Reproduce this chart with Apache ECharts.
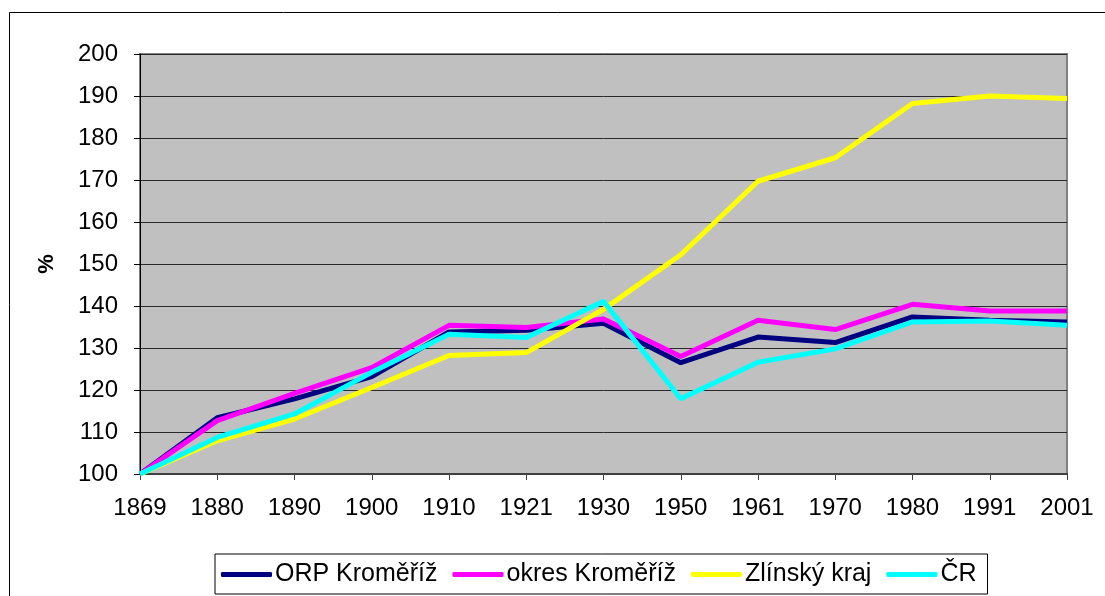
<!DOCTYPE html>
<html>
<head>
<meta charset="utf-8">
<script src="https://cdn.jsdelivr.net/npm/echarts@6/dist/echarts.min.js"></script>
<style>
  html, body { margin: 0; padding: 0; background: #fff; }
  #main { width: 1105px; height: 596px; }
</style>
</head>
<body>
<div id="main"></div>
<script>
// roky sčítání
var years = ['1869', '1880', '1890', '1900', '1910', '1921', '1930', '1950', '1961', '1970', '1980', '1991', '2001'];

// index vývoje počtu obyvatel, 1869 = 100 %
var orpKromeriz   = [100, 113.4, 117.9, 123.2, 133.8, 134.2, 135.9, 126.5, 132.6, 131.3, 137.4, 136.6, 136.2];
var okresKromeriz = [100, 112.7, 119.2, 125.3, 135.4, 134.9, 136.9, 128.0, 136.6, 134.4, 140.4, 138.8, 138.8];
var zlinskyKraj   = [100, 107.9, 113.1, 120.6, 128.2, 128.9, 139.2, 152.2, 169.7, 175.3, 188.2, 190.0, 189.4];
var cr            = [100, 108.7, 114.3, 124.2, 133.3, 132.5, 141.1, 117.9, 126.6, 129.8, 136.2, 136.4, 135.4];

var chart = echarts.init(document.getElementById('main'));

function lineSeries(name, data, color) {
  return {
    name: name,
    type: 'line',
    data: data,
    symbol: 'none',
    lineStyle: { color: color, width: 5 },
    itemStyle: { color: color }
  };
}

var option = {
  backgroundColor: '#fff',
  animation: false,
  textStyle: { fontFamily: 'Liberation Sans, Arial, sans-serif' },
  graphic: [{
    type: 'rect',
    shape: { x: 9.5, y: 12.5, width: 1200, height: 700 },
    style: { fill: 'none', stroke: '#000', lineWidth: 1 },
    silent: true,
    z: -1
  }],
  grid: {
    left: 140,
    right: 38,
    top: 54,
    bottom: 122,
    show: true,
    backgroundColor: '#C0C0C0',
    borderColor: '#808080',
    borderWidth: 2
  },
  legend: {
    left: 215,
    top: 554,
    padding: [8, 11, 7, 6],
    borderColor: '#000',
    borderWidth: 1,
    itemGap: 15,
    itemWidth: 51,
    itemHeight: 5,
    icon: 'roundRect',
    textStyle: { color: '#000', fontSize: 25, fontFamily: 'Liberation Sans, Arial, sans-serif', padding: [0, 0, 0, -2] },
    data: ['ORP Kroměříž', 'okres Kroměříž', 'Zlínský kraj', 'ČR']
  },
  xAxis: {
    type: 'category',
    data: years,
    boundaryGap: false,
    axisLine: { lineStyle: { color: '#404040', width: 2 } },
    axisTick: { show: true, length: 6, alignWithLabel: true, lineStyle: { color: '#404040' } },
    axisLabel: { color: '#000', fontSize: 24, margin: 22, interval: 0 },
    splitLine: { show: false }
  },
  yAxis: {
    type: 'value',
    min: 100,
    max: 200,
    interval: 10,
    name: '%',
    nameLocation: 'middle',
    nameGap: 82,
    nameRotate: 90,
    nameTextStyle: { color: '#000', fontSize: 22, fontWeight: 'bold' },
    axisLine: { show: true, lineStyle: { color: '#000', width: 1 } },
    axisTick: { show: true, inside: false, length: 6, lineStyle: { color: '#000' } },
    axisLabel: { color: '#000', fontSize: 24, margin: 22 },
    splitLine: { show: true, lineStyle: { color: '#2a2a2a', width: 1 } }
  },
  series: [
    lineSeries('ORP Kroměříž', orpKromeriz, '#000080'),
    lineSeries('okres Kroměříž', okresKromeriz, '#FF00FF'),
    lineSeries('Zlínský kraj', zlinskyKraj, '#FFFF00'),
    lineSeries('ČR', cr, '#00FFFF')
  ]
};

chart.setOption(option);
</script>
</body>
</html>
